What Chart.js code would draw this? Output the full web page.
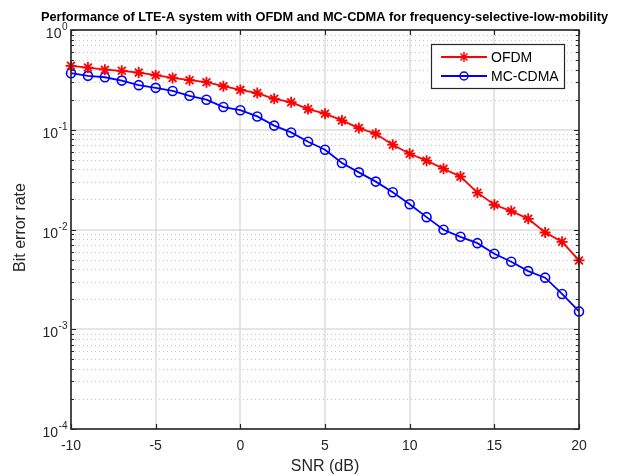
<!DOCTYPE html>
<html>
<head>
<meta charset="utf-8">
<script src="https://cdn.jsdelivr.net/npm/chart.js@4.4.0/dist/chart.umd.min.js"></script>
<style>
  html, body { margin: 0; padding: 0; background: #fff; }
  #wrap { width: 619px; height: 476px; }
</style>
</head>
<body>
<div id="wrap"><canvas id="berChart" width="619" height="476"></canvas></div>
<script>
// data
const snr = [-10, -9, -8, -7, -6, -5, -4, -3, -2, -1, 0, 1, 2, 3, 4, 5, 6, 7, 8, 9, 10, 11, 12, 13, 14, 15, 16, 17, 18, 19, 20];
const ofdmBer = [0.437, 0.42, 0.40, 0.39, 0.374, 0.352, 0.331, 0.314, 0.30, 0.273, 0.251, 0.233, 0.204, 0.189, 0.161, 0.145, 0.124, 0.104, 0.0912, 0.0708, 0.0575, 0.049, 0.0407, 0.0339, 0.0234, 0.0177, 0.0153, 0.0128, 0.00933, 0.00753, 0.0049];
const mcCdmaBer = [0.369, 0.347, 0.336, 0.311, 0.28, 0.263, 0.245, 0.219, 0.20, 0.169, 0.157, 0.136, 0.110, 0.094, 0.0759, 0.063, 0.0464, 0.0374, 0.0302, 0.0236, 0.0179, 0.0133, 0.00993, 0.00845, 0.0073, 0.00571, 0.00475, 0.00383, 0.00329, 0.00226, 0.00151];
const xTicks = [-10, -5, 0, 5, 10, 15, 20];
const yExponents = [0, -1, -2, -3, -4];

const titleText = 'Performance of LTE-A system with OFDM and MC-CDMA for frequency-selective-low-mobility';
const axisColor = '#262626';
const fontName = '"Liberation Sans", Arial, sans-serif';

function toPoints(xs, ys) {
    return xs.map((x, i) => ({ x: x, y: ys[i] }));
}

// grid, box, ticks and texts drawn the matlab way
const matlabAxes = {
    id: 'matlabAxes',
    beforeDatasetsDraw(chart) {
        const ctx = chart.ctx;
        const a = chart.chartArea;
        const xs = chart.scales.x, ys = chart.scales.y;
        ctx.save();
        // minor dotted grid
        ctx.strokeStyle = '#c8c8c8';
        ctx.lineWidth = 1;
        ctx.setLineDash([1, 3]);
        yExponents.forEach(e => {
            if (e === 0) return;
            for (let m = 2; m <= 9; m++) {
                const py = Math.round(ys.getPixelForValue(m * Math.pow(10, e))) + 0.5;
                ctx.beginPath(); ctx.moveTo(a.left, py); ctx.lineTo(a.right, py); ctx.stroke();
            }
        });
        ctx.setLineDash([]);
        // major grid
        ctx.strokeStyle = '#dcdcdc';
        ctx.lineWidth = 1.5;
        xTicks.forEach(v => {
            const px = Math.round(xs.getPixelForValue(v));
            ctx.beginPath(); ctx.moveTo(px, a.top); ctx.lineTo(px, a.bottom); ctx.stroke();
        });
        yExponents.forEach(e => {
            const py = Math.round(ys.getPixelForValue(Math.pow(10, e)));
            ctx.beginPath(); ctx.moveTo(a.left, py); ctx.lineTo(a.right, py); ctx.stroke();
        });
        ctx.restore();
    },
    afterDraw(chart) {
        const ctx = chart.ctx;
        const a = chart.chartArea;
        const xs = chart.scales.x, ys = chart.scales.y;
        ctx.save();
        ctx.strokeStyle = axisColor;
        ctx.lineWidth = 1.6;
        // box
        ctx.strokeRect(a.left, a.top, a.right - a.left, a.bottom - a.top);
        ctx.lineWidth = 1.2;
        // x ticks
        xTicks.forEach(v => {
            const px = Math.round(xs.getPixelForValue(v)) + 0.5;
            ctx.beginPath();
            ctx.moveTo(px, a.bottom); ctx.lineTo(px, a.bottom - 5);
            ctx.moveTo(px, a.top); ctx.lineTo(px, a.top + 5);
            ctx.stroke();
        });
        // y ticks, major and minor
        yExponents.forEach(e => {
            for (let m = 1; m <= 9; m++) {
                if (e === 0 && m > 1) break;
                const py = Math.round(ys.getPixelForValue(m * Math.pow(10, e))) + 0.5;
                const len = m === 1 ? 5 : 3;
                ctx.beginPath();
                ctx.moveTo(a.left, py); ctx.lineTo(a.left + len, py);
                ctx.moveTo(a.right, py); ctx.lineTo(a.right - len, py);
                ctx.stroke();
            }
        });

        ctx.fillStyle = axisColor;
        // x tick labels
        ctx.font = '14px ' + fontName;
        ctx.textAlign = 'center';
        ctx.textBaseline = 'alphabetic';
        xTicks.forEach(v => {
            ctx.fillText(String(v), xs.getPixelForValue(v), a.bottom + 21);
        });
        // y tick labels 10^e
        ctx.textAlign = 'left';
        yExponents.forEach(e => {
            const py = ys.getPixelForValue(Math.pow(10, e));
            ctx.font = '14px ' + fontName;
            const wBase = ctx.measureText('10').width;
            ctx.font = '10px ' + fontName;
            const wExp = ctx.measureText(String(e)).width;
            const x0 = a.left - 4 - wBase - wExp;
            ctx.font = '14px ' + fontName;
            ctx.fillText('10', x0, py + 8);
            ctx.font = '10px ' + fontName;
            ctx.fillText(String(e), x0 + wBase + 0.5, py + 0);
        });
        // axis titles
        ctx.font = '16px ' + fontName;
        ctx.textAlign = 'center';
        ctx.textBaseline = 'middle';
        ctx.fillText('SNR (dB)', (a.left + a.right) / 2, 467);
        ctx.save();
        ctx.translate(21, (a.top + a.bottom) / 2 - 2);
        ctx.rotate(-Math.PI / 2);
        ctx.fillText('Bit error rate', 0, 0);
        ctx.restore();
        // title
        ctx.fillStyle = '#000';
        ctx.font = 'bold 12.8px ' + fontName;
        ctx.fillText(titleText, (a.left + a.right) / 2 - 0.5, 17);

        // legend
        const lx = 431, ly = 44, lw = 133, lh = 44;
        ctx.fillStyle = '#fff';
        ctx.fillRect(lx, ly, lw, lh);
        ctx.strokeStyle = axisColor;
        ctx.lineWidth = 1.2;
        ctx.strokeRect(lx + 0.5, ly + 0.5, lw, lh);
        const rows = [57, 76];
        chart.data.datasets.forEach((ds, i) => {
            const ry = rows[i];
            ctx.strokeStyle = ds.borderColor;
            ctx.lineWidth = 1.8;
            ctx.beginPath(); ctx.moveTo(441, ry); ctx.lineTo(487, ry); ctx.stroke();
            ctx.lineWidth = 1.5;
            ctx.beginPath();
            if (ds.pointStyle === 'star') {
                const r = 5;
                ctx.moveTo(464 - r, ry); ctx.lineTo(464 + r, ry);
                ctx.moveTo(464, ry - r); ctx.lineTo(464 + 0, ry + r);
                const d = r * 0.707;
                ctx.moveTo(464 - d, ry - d); ctx.lineTo(464 + d, ry + d);
                ctx.moveTo(464 - d, ry + d); ctx.lineTo(464 + d, ry - d);
            } else {
                ctx.arc(464, ry, 4, 0, Math.PI * 2);
            }
            ctx.stroke();
            ctx.fillStyle = '#000';
            ctx.font = '14px ' + fontName;
            ctx.textAlign = 'left';
            ctx.textBaseline = 'middle';
            ctx.fillText(ds.label, 491, ry + 1);
        });
        ctx.restore();
    }
};

const ctx = document.getElementById('berChart').getContext('2d');
const berChart = new Chart(ctx, {
    type: 'line',
    data: {
        datasets: [{
            label: 'OFDM',
            data: toPoints(snr, ofdmBer),
            borderColor: '#ff0000',
            backgroundColor: '#ff0000',
            borderWidth: 1.8,
            pointStyle: 'star',
            pointRadius: 5.5,
            pointBorderWidth: 1.8,
            clip: false
        }, {
            label: 'MC-CDMA',
            data: toPoints(snr, mcCdmaBer),
            borderColor: '#0000ff',
            backgroundColor: 'rgba(0,0,0,0)',
            borderWidth: 1.8,
            pointStyle: 'circle',
            pointRadius: 4.5,
            pointBorderWidth: 1.6,
            clip: false
        }]
    },
    options: {
        responsive: false,
        animation: false,
        layout: { padding: { left: 0, right: 40, top: 30, bottom: 0 } },
        plugins: {
            legend: { display: false },
            title: { display: false },
            tooltip: { enabled: false }
        },
        scales: {
            x: {
                type: 'linear',
                min: -10,
                max: 20,
                ticks: { display: false },
                grid: { display: false },
                border: { display: false },
                afterFit: s => { s.height = 47; }
            },
            y: {
                type: 'logarithmic',
                min: 1e-4,
                max: 1,
                ticks: { display: false },
                grid: { display: false },
                border: { display: false },
                afterFit: s => { s.width = 71; }
            }
        }
    },
    plugins: [matlabAxes]
});
</script>
</body>
</html>
